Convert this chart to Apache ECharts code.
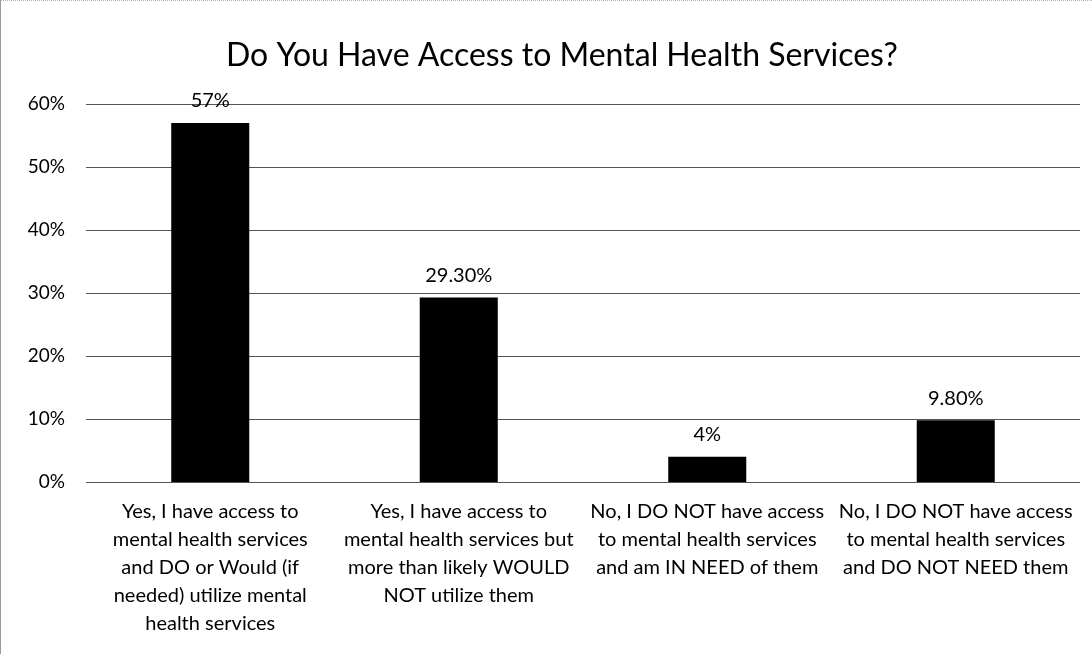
<!DOCTYPE html>
<html>
<head>
<meta charset="utf-8">
<script src="https://cdn.jsdelivr.net/npm/echarts@6/dist/echarts.min.js"></script>
<style>
html,body{margin:0;padding:0;background:#fff;}
#chart{width:1092px;height:654px;box-sizing:border-box;border-left:1px solid #9a9a9a;border-top:1px dotted #b0b0b0;}
</style>
</head>
<body>
<div id="chart"></div>
<script>
var categories = [
  "Yes, I have access to\nmental health services\nand DO or Would (if\nneeded) utilize mental\nhealth services",
  "Yes, I have access to\nmental health services but\nmore than likely WOULD\nNOT utilize them",
  "No, I DO NOT have access\nto mental health services\nand am IN NEED of them",
  "No, I DO NOT have access\nto mental health services\nand DO NOT NEED them"
];
var values = [57, 29.3, 4, 9.8];
var valueLabels = ["57%", "29.30%", "4%", "9.80%"];
var yTicks = [0, 10, 20, 30, 40, 50, 60];

var chart = echarts.init(document.getElementById('chart'));
chart.setOption({
  backgroundColor: '#ffffff',
  animation: false,
  title: {
    text: 'Do You Have Access to Mental Health Services?',
    left: 220,
    top: 34,
    textStyle: { fontFamily: 'Lato', fontSize: 32, fontWeight: 'normal', color: '#000' }
  },
  grid: { left: 85, right: 12, top: 103, bottom: 172, containLabel: false },
  xAxis: {
    type: 'category',
    data: categories,
    axisLine: { show: false },
    axisTick: { show: false },
    axisLabel: {
      interval: 0,
      margin: 16,
      fontFamily: 'Lato',
      fontSize: 20,
      lineHeight: 28,
      color: '#000',
      align: 'center'
    }
  },
  yAxis: {
    type: 'value',
    min: yTicks[0],
    max: yTicks[yTicks.length - 1],
    interval: 10,
    axisLine: { show: false },
    axisTick: { show: false },
    axisLabel: {
      margin: 21,
      fontFamily: 'Lato',
      fontSize: 19,
      color: '#000',
      formatter: function (v) { return v + '%'; }
    },
    splitLine: { lineStyle: { color: '#555', width: 1 } }
  },
  series: [{
    type: 'bar',
    data: values,
    barWidth: '31.4%',
    itemStyle: { color: '#000' },
    label: {
      show: true,
      position: 'top',
      distance: 12,
      fontFamily: 'Lato',
      fontSize: 20,
      color: '#000',
      formatter: function (p) { return valueLabels[p.dataIndex]; }
    }
  }]
});
</script>
</body>
</html>
